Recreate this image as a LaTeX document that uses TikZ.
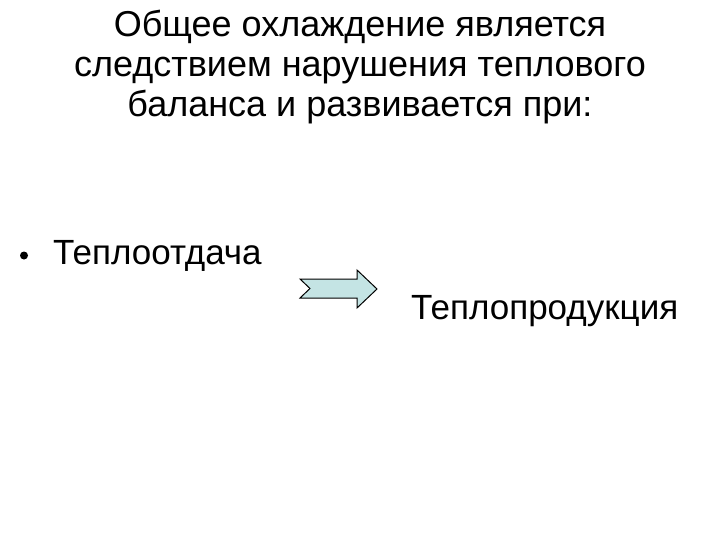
\documentclass[tikz,border=0pt]{standalone}
\usepackage{fontspec}
\setmainfont{Liberation Sans}
\definecolor{arrowfill}{RGB}{196,228,228}
\tikzset{
  title/.style={font=\fontsize{36}{40}\selectfont, align=center, inner sep=0pt, anchor=base},
  body/.style={font=\fontsize{35}{40}\selectfont, inner sep=0pt, anchor=base west},
  notcharrow/.style={draw=black, line width=1pt, fill=arrowfill, line join=miter}
}
\begin{document}
\begin{tikzpicture}[x=1pt,y=-1pt]
\useasboundingbox (0,0) rectangle (720,540);
\node[title] (t1) at (360,37) {Общее охлаждение является};
\node[title] (t2) at (360,77) {следствием нарушения теплового};
\node[title] (t3) at (360,117) {баланса и развивается при:};
\node[body] (b1) at (53,264) {Теплоотдача};
\fill (24,255.5) circle (4);
\node[body] (b2) at (411,319) {Теплопродукция};
\draw[notcharrow] (300,279) -- (357,279) -- (357,270) -- (377,289) -- (357,308) -- (357,298) -- (300,298) -- (310,288.5) -- cycle;
\end{tikzpicture}
\end{document}
